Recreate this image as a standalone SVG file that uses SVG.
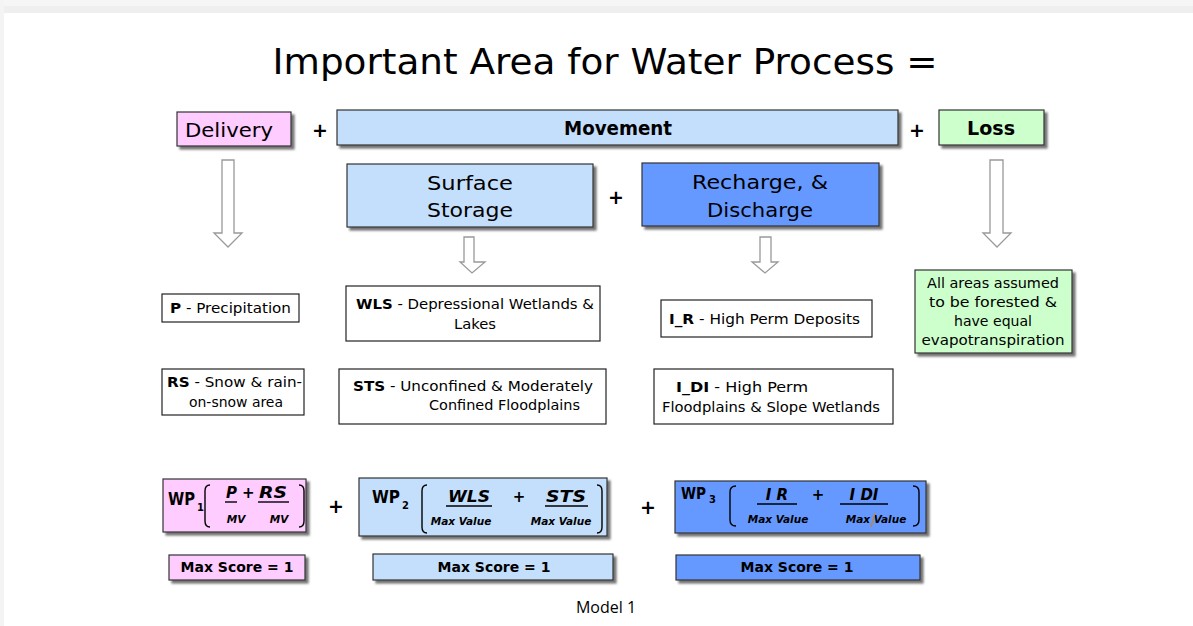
<svg xmlns="http://www.w3.org/2000/svg" width="1193" height="626" viewBox="0 0 1193 626">
<defs>
<filter id="sh" x="-10%" y="-10%" width="130%" height="140%">
<feDropShadow dx="3" dy="3" stdDeviation="1" flood-color="#000" flood-opacity="0.55"/>
</filter>
<style>
text{font-family:"DejaVu Sans","Noto Sans",sans-serif;fill:#000}
.box{stroke:#333;stroke-width:1.2}
.sh{filter:url(#sh)}
.pink{fill:#FFCCFF}
.lb{fill:#C4DFFB}
.blue{fill:#6699FF}
.green{fill:#CCFFCC}
.wb{fill:#fff;stroke:#222;stroke-width:1.2}
.h{font-size:20px;text-anchor:middle}
.t{font-size:13.5px}
.c{text-anchor:middle}
.b{font-weight:bold}
.arrow{fill:#fff;stroke:#999;stroke-width:1.3}
.br{fill:none;stroke:#000;stroke-width:1.4}
.num{font-size:15px;font-style:italic;font-weight:bold}
.den{font-size:10.5px;font-style:italic;font-weight:bold;text-anchor:middle}
.ul{stroke:#000;stroke-width:1.4}
.ms{font-size:14px;font-weight:bold;text-anchor:middle}
.op{font-size:19px;font-weight:bold;text-anchor:middle}
.wp{font-weight:bold}
</style>
</defs>
<rect width="1193" height="626" fill="#fff"/>
<rect x="0" y="0" width="1193" height="13" fill="#EFEFEF"/>
<rect x="0" y="0" width="1193" height="6" fill="#F6F6F6"/>
<rect x="0" y="0" width="4" height="626" fill="#F4F4F4"/>

<text x="605" y="74" font-size="36" text-anchor="middle" textLength="665" lengthAdjust="spacingAndGlyphs">Important Area for Water Process =</text>

<g id="connectors">
<path class="arrow" d="M222,160 H234 V233 H242 L228,247 L214,233 H222 Z"/>
<path class="arrow" d="M464,237 H474 V262 H485 L472,273 L460,262 H464 Z"/>
<path class="arrow" d="M760,237 H771 V262 H778 L765,273 L752,262 H760 Z"/>
<path class="arrow" d="M990,160 H1003 V233 H1011 L997,247 L983,233 H990 Z"/>
</g>

<g id="ops">
<text class="op" x="320" y="137">+</text>
<text class="op" x="917" y="137">+</text>
<text class="op" x="616" y="204">+</text>
<text class="op" x="336" y="513">+</text>
<text class="op" x="648" y="514">+</text>
</g>

<g id="delivery"><rect class="box sh pink" x="177" y="112" width="114" height="34"/><text class="h" x="229" y="137" textLength="88" lengthAdjust="spacingAndGlyphs">Delivery</text></g>
<g id="movement"><rect class="box sh lb" x="337" y="110" width="561" height="35"/><text class="h b" x="618" y="135" textLength="108" lengthAdjust="spacingAndGlyphs">Movement</text></g>
<g id="loss"><rect class="box sh green" x="939" y="110" width="105" height="35"/><text class="h b" x="991" y="135" textLength="48" lengthAdjust="spacingAndGlyphs">Loss</text></g>
<g id="surface"><rect class="box sh lb" x="347" y="164" width="246" height="63"/><text class="h" x="470" y="190" textLength="86" lengthAdjust="spacingAndGlyphs">Surface</text><text class="h" x="470" y="217" textLength="86" lengthAdjust="spacingAndGlyphs">Storage</text></g>
<g id="recharge"><rect class="box sh blue" x="642" y="163" width="237" height="63"/><text class="h" x="760" y="189" textLength="136" lengthAdjust="spacingAndGlyphs">Recharge, &amp;</text><text class="h" x="760" y="217" textLength="106" lengthAdjust="spacingAndGlyphs">Discharge</text></g>

<g id="p"><rect class="wb" x="162" y="294" width="137" height="28"/><text class="t" x="170" y="313" textLength="121" lengthAdjust="spacingAndGlyphs"><tspan class="b">P</tspan> - Precipitation</text></g>
<g id="rs"><rect class="wb" x="162" y="369" width="142" height="46"/><text class="t" x="167" y="387" textLength="135" lengthAdjust="spacingAndGlyphs"><tspan class="b">RS</tspan> - Snow &amp;  rain-</text><text class="t c" x="236" y="407" textLength="94" lengthAdjust="spacingAndGlyphs">on-snow area</text></g>
<g id="wls"><rect class="wb" x="346" y="286" width="254" height="55"/><text class="t" x="356" y="309" textLength="238" lengthAdjust="spacingAndGlyphs"><tspan class="b">WLS</tspan> - Depressional Wetlands &amp;</text><text class="t c" x="475" y="329" textLength="42" lengthAdjust="spacingAndGlyphs">Lakes</text></g>
<g id="sts"><rect class="wb" x="339" y="369" width="267" height="55"/><text class="t" x="353" y="391" textLength="240" lengthAdjust="spacingAndGlyphs"><tspan class="b">STS</tspan> - Unconfined &amp; Moderately</text><text class="t" x="429" y="410" textLength="151" lengthAdjust="spacingAndGlyphs">Confined Floodplains</text></g>
<g id="ir"><rect class="wb" x="661" y="300" width="211" height="37"/><text class="t" x="669" y="324" textLength="191" lengthAdjust="spacingAndGlyphs"><tspan class="b">I_R</tspan> - High Perm Deposits</text></g>
<g id="idi"><rect class="wb" x="654" y="369" width="239" height="55"/><text class="t" x="676" y="392" textLength="132" lengthAdjust="spacingAndGlyphs"><tspan class="b">I_DI</tspan> - High Perm</text><text class="t" x="662" y="412" textLength="218" lengthAdjust="spacingAndGlyphs">Floodplains &amp; Slope Wetlands</text></g>
<g id="lossnote"><rect class="box sh green" x="915" y="270" width="157" height="83"/>
<text class="t c" x="993" y="288" textLength="132" lengthAdjust="spacingAndGlyphs">All areas assumed</text>
<text class="t c" x="993" y="307" textLength="128" lengthAdjust="spacingAndGlyphs">to be forested  &amp;</text>
<text class="t c" x="993" y="326" textLength="78" lengthAdjust="spacingAndGlyphs">have equal</text>
<text class="t c" x="993" y="345" textLength="143" lengthAdjust="spacingAndGlyphs">evapotranspiration</text></g>

<g id="wp1"><rect class="box sh pink" x="163" y="479" width="143" height="53"/>
<text class="wp" x="168" y="505" font-size="17" textLength="27" lengthAdjust="spacingAndGlyphs">WP</text><text class="wp" x="197" y="511" font-size="10">1</text>
<path class="br" d="M210,485 Q205,485 205,491 V521 Q205,527 210,527"/>
<path class="br" d="M299,485 Q304,485 304,491 V521 Q304,527 299,527"/>
<text class="num" x="226" y="498">P</text><line class="ul" x1="225" y1="502" x2="237" y2="502"/>
<text class="num" x="242" y="498" font-size="12">+</text>
<text class="num" x="259" y="498" textLength="28" lengthAdjust="spacingAndGlyphs">RS</text><line class="ul" x1="258" y1="502" x2="289" y2="502"/>
<text class="den" x="236" y="523">MV</text><text class="den" x="279" y="523">MV</text></g>

<g id="wp2"><rect class="box sh lb" x="359" y="478" width="248" height="58"/>
<text class="wp" x="372" y="503" font-size="17" textLength="28" lengthAdjust="spacingAndGlyphs">WP</text><text class="wp" x="402" y="509" font-size="10">2</text>
<path class="br" d="M427,485 Q422,485 422,491 V527 Q422,533 427,533"/>
<path class="br" d="M597,485 Q602,485 602,491 V527 Q602,533 597,533"/>
<text class="num" x="469" y="502" text-anchor="middle" textLength="42" lengthAdjust="spacingAndGlyphs">WLS</text><line class="ul" x1="446" y1="506" x2="492" y2="506"/>
<text class="num" x="519" y="502" font-size="12" text-anchor="middle">+</text>
<text class="num" x="566" y="502" text-anchor="middle" textLength="40" lengthAdjust="spacingAndGlyphs">STS</text><line class="ul" x1="545" y1="506" x2="588" y2="506"/>
<text class="den" x="461" y="525">Max Value</text><text class="den" x="561" y="525">Max Value</text></g>

<g id="wp3"><rect class="box sh blue" x="675" y="481" width="251" height="52"/>
<text class="wp" x="681" y="499" font-size="16" textLength="25" lengthAdjust="spacingAndGlyphs">WP</text><text class="wp" x="709" y="503" font-size="10">3</text>
<path class="br" d="M736,486 Q730,486 730,492 V520 Q730,526 736,526"/>
<path class="br" d="M913,486 Q919,486 919,492 V520 Q919,526 913,526"/>
<text class="num" x="777" y="500" text-anchor="middle">I  R</text><line class="ul" x1="757" y1="504" x2="797" y2="504"/>
<text class="num" x="818" y="500" font-size="12" text-anchor="middle">+</text>
<text class="num" x="864" y="500" text-anchor="middle">I  DI</text><line class="ul" x1="840" y1="504" x2="888" y2="504"/>
<text class="den" x="778" y="523">Max Value</text><text class="den" x="876" y="523">Max Value</text>
<line x1="875" y1="513" x2="871" y2="527" stroke="#C8822A" stroke-width="1.2"/></g>

<g id="ms1"><rect class="box sh pink" x="169" y="555" width="136" height="25"/><text class="ms" x="237" y="572">Max Score = 1</text></g>
<g id="ms2"><rect class="box sh lb" x="373" y="554" width="240" height="26"/><text class="ms" x="494" y="572">Max Score = 1</text></g>
<g id="ms3"><rect class="box sh blue" x="676" y="555" width="244" height="25"/><text class="ms" x="797" y="572">Max Score = 1</text></g>

<text x="606" y="613" font-size="16" text-anchor="middle" style="font-family:'Open Sans','Liberation Sans',sans-serif">Model 1</text>
</svg>
